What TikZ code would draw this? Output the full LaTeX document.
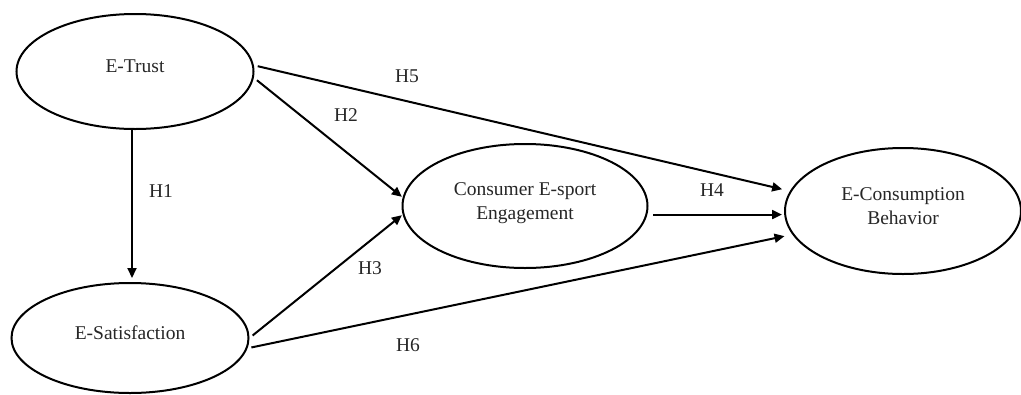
\documentclass[tikz,border=0pt]{standalone}
\usepackage{fontspec}
\setmainfont{Liberation Serif}
\usetikzlibrary{shapes.geometric,arrows.meta}

\begin{document}
\begin{tikzpicture}[x=1pt,y=-1pt,
    construct/.style={ellipse, draw, line width=2pt, align=center, text=black!85,
      text depth=10pt, font=\fontsize{19.5}{24}\selectfont},
    hyp/.style={text=black!85, font=\fontsize{19.5}{24}\selectfont},
    link/.style={-{Triangle[length=10pt,width=9pt]}, line width=2pt}]
  \useasboundingbox (0,0) rectangle (1021,394);
  % constructs
  \node (trust) at (135,71.5) [construct, minimum width=237pt, minimum height=115pt] {E-Trust};
  \node (sat) at (130,338) [construct, minimum width=237pt, minimum height=110pt] {E-Satisfaction};
  \node (cons) at (525,206) [construct, minimum width=245pt, minimum height=124pt] {Consumer E-sport\\Engagement};
  \node (ec) at (903,211) [construct, minimum width=236pt, minimum height=126pt] {E-Consumption\\Behavior};
  % paths
  \draw[link, shorten >=4pt] ([xshift=-3pt]trust.south) -- ([xshift=-3pt]trust.south |- sat.north);
  \draw[link, shorten <=6pt, shorten >=2pt] (cons.-4) -- (cons.-4 -| ec.west);
  \foreach \source/\dest/\gap in {trust.3/ec.170/8, trust.-3/cons.176/1, sat.0/cons.184/1, sat.-5/ec.192/8}
    \draw[link, shorten <=4pt, shorten >=\gap pt] (\source) -- (\dest);
  % hypotheses
  \node (h1) at (161,191) [hyp] {H1};
  \node (h2) at (346,115) [hyp] {H2};
  \node (h3) at (370,268) [hyp] {H3};
  \node (h4) at (712,190) [hyp] {H4};
  \node (h5) at (407,76) [hyp] {H5};
  \node (h6) at (408,345) [hyp] {H6};
\end{tikzpicture}
\end{document}
